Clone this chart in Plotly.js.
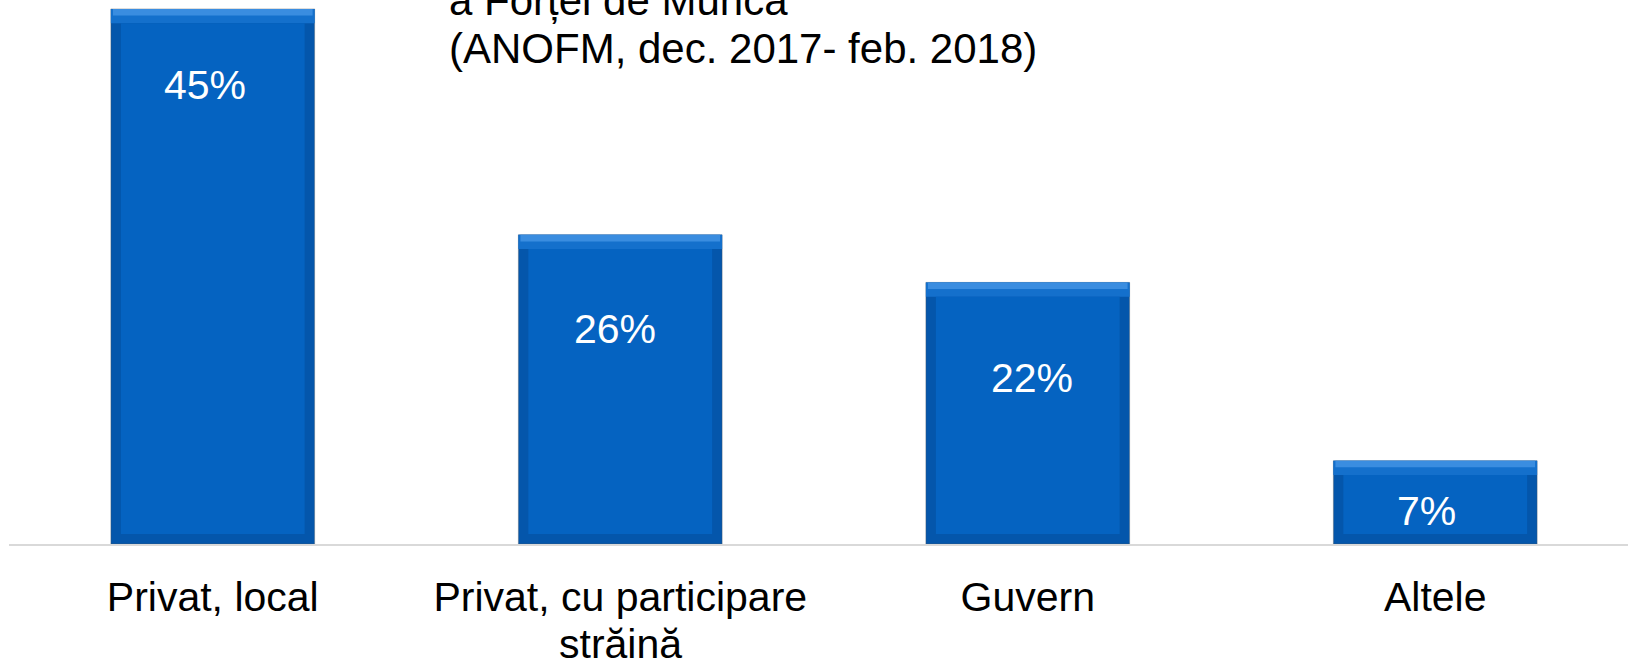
<!DOCTYPE html>
<html>
<head>
<meta charset="utf-8">
<script src="https://cdn.plot.ly/plotly-3.0.1.min.js"></script>
<style>html,body{margin:0;padding:0;background:#fff;}#chart{width:1628px;height:660px;}</style>
</head>
<body>
<div id="chart"></div>
<script>
const categories = ["Privat, local", "Privat, cu participare străină", "Guvern", "Altele"];
const tickFirstLines = ["Privat, local", "Privat, cu participare", "Guvern", "Altele"];
const tickSecondLines = ["", "străină", "", ""];
const values = [45, 26, 22, 7];
const valueLabels = ["45%", "26%", "22%", "7%"];
const titleLines = ["a Forței de Muncă", "(ANOFM, dec. 2017- feb. 2018)"];

const FONT = "Liberation Sans, Arial, sans-serif";
const labelShiftY = [-76, -94, -96, -50];
const labelShiftX = [-8, -5, 4, -9];
const sideBevel = 0.85;   // in data units (~10px)
const topBevel = 1.2;
const topLight = 0.55;

const outer = {
  type: "bar", x: categories, y: values, width: 0.5,
  marker: {color: "#0456ab", line: {color: "rgba(90,90,90,0.35)", width: 1}},
  hoverinfo: "skip", showlegend: false
};
const topBand = {
  type: "bar", x: categories, y: values.map(() => topBevel),
  base: values.map(v => v - topBevel), width: 0.5,
  marker: {color: "#1470cc", line: {width: 0}},
  hoverinfo: "skip", showlegend: false
};
const topHighlight = {
  type: "bar", x: categories, y: values.map(() => topLight),
  base: values.map(v => v - topLight), width: 0.49,
  marker: {color: "#3a8de0", line: {width: 0}},
  hoverinfo: "skip", showlegend: false
};
const face = {
  type: "bar", x: categories, y: values.map(v => v - sideBevel - topBevel),
  base: values.map(() => sideBevel), width: 0.5 * 184 / 204,
  marker: {color: "#0563c1", line: {width: 0}},
  hoverinfo: "skip", showlegend: false
};

const annotations = values.map((v, i) => ({
  x: categories[i], y: v, xref: "x", yref: "y",
  text: valueLabels[i], showarrow: false, yshift: labelShiftY[i], xshift: labelShiftX[i],
  yanchor: "middle", xanchor: "center",
  font: {family: FONT, size: 41, color: "#ffffff"}
}));
tickSecondLines.forEach((t, i) => {
  if (!t) return;
  annotations.push({
    x: categories[i], xref: "x", y: -100 / 544, yref: "paper", yanchor: "middle", xanchor: "center",
    text: t, showarrow: false,
    font: {family: FONT, size: 41, color: "#000000"}
  });
});
annotations.push({
  x: 0.2705, xref: "paper", xanchor: "left", y: 1.0, yref: "paper", yanchor: "middle",
  text: titleLines[0], showarrow: false, align: "left",
  font: {family: FONT, size: 42, color: "#000000"}
});
annotations.push({
  x: 0.2705, xref: "paper", xanchor: "left", y: 1 - 48 / 544, yref: "paper", yanchor: "middle",
  text: titleLines[1], showarrow: false, align: "left",
  font: {family: FONT, size: 42, color: "#000000"}
});

const layout = {
  width: 1628, height: 660,
  margin: {l: 9, r: 0, t: 0, b: 116, pad: 0},
  paper_bgcolor: "#ffffff", plot_bgcolor: "#ffffff",
  barmode: "overlay",
  showlegend: false,
  xaxis: {
    type: "category", range: [-0.5, 3.473],
    tickmode: "array", tickvals: categories, ticktext: tickFirstLines,
    showline: true, linecolor: "#d9d9d9", linewidth: 2,
    showgrid: false, zeroline: false, ticks: "",
    ticklabelstandoff: 16,
    tickfont: {family: FONT, size: 41, color: "#000000"}
  },
  yaxis: {range: [0, 45.75], visible: false, showgrid: false, zeroline: false, fixedrange: true},
  annotations: annotations
};

Plotly.newPlot("chart", [outer, topBand, topHighlight, face], layout, {displayModeBar: false, staticPlot: true});
</script>
</body>
</html>
